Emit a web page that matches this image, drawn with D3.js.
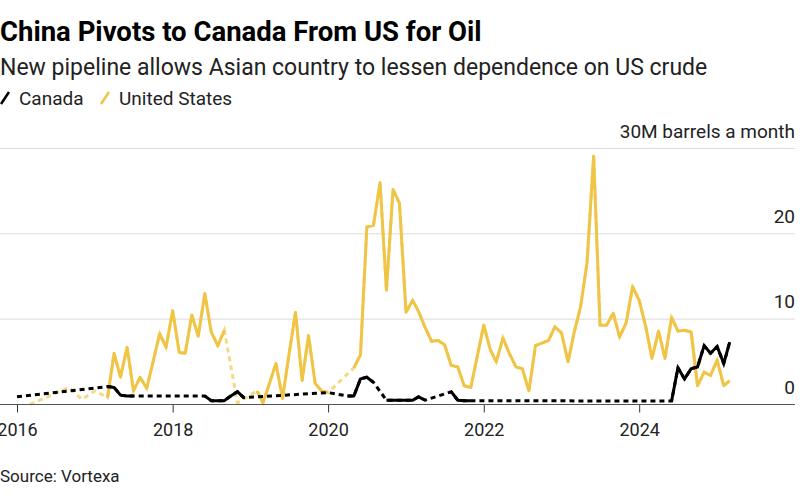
<!DOCTYPE html>
<html>
<head>
<meta charset="utf-8">
<script src="https://cdn.jsdelivr.net/npm/d3@7"></script>
<style>
  body { margin: 0; background: #fff; }
  svg { display: block; font-family: Roboto, "Liberation Sans", sans-serif; }
</style>
</head>
<body>
<svg id="chart" width="800" height="500"></svg>
<script>
// monthly imports into China, millions of barrels, Jan 2016 .. Mar 2025 (null = no data)
const firstMonth = new Date(2016, 0, 1);
const lastMonth = new Date(2025, 2, 1);
const months = d3.timeMonth.range(firstMonth, d3.timeMonth.offset(lastMonth, 1));

const canada = [
  0.9, null, null, null, null, null, null, null, null, null, null, null,   // 2016
  null, null, 2.1, 2.0, 1.1, 1.0, 1.0, null, null, null, null, null,       // 2017
  null, null, null, null, null, 1.0, 0.45, 0.45, 0.45, 1.0, 1.5, 0.8,     // 2018
  null, null, null, null, null, null, null, null, null, null, null, null, // 2019
  1.4, null, null, 1.0, 1.0, 3.0, 3.2, 2.6, null, 0.5, 0.5, 0.5,          // 2020
  0.5, 0.5, 0.9, 0.5, null, null, null, 1.5, 0.5, 0.45, 0.45, null,       // 2021
  null, null, null, null, null, null, null, null, null, null, null, null, // 2022
  null, null, null, null, null, null, null, null, null, null, null, null, // 2023
  null, null, null, null, null, 0.4, 4.3, 3.0, 4.2, 4.4, 6.9, 6.0,        // 2024
  6.8, 4.8, 7.3                                                           // 2025
];

const unitedStates = [
  null, null, 0.0, null, null, null, null, null, 2.0, null, 0.6, null,    // 2016
  1.6, null, 0.8, 6.0, 3.2, 6.7, 1.6, 3.2, 1.9, 5.0, 8.3, 6.7,            // 2017
  11.0, 6.1, 6.0, 10.5, 8.0, 13.0, 8.5, 6.9, 8.7, null, 0.2, null,        // 2018
  null, 1.6, 0.2, 2.5, 4.8, 0.7, 5.8, 10.8, 2.8, 8.1, 2.5, 1.6,           // 2019
  1.4, null, null, null, 4.3, 5.8, 20.8, 21.0, 26.0, 13.4, 25.2, 23.6,    // 2020
  10.8, 12.2, 10.9, 9.0, 7.4, 7.5, 7.0, 4.6, 4.4, 2.2, 2.0, 5.6,          // 2021
  9.3, 6.4, 5.0, 7.8, 6.0, 4.4, 4.2, 1.6, 6.9, 7.2, 7.5, 9.1,             // 2022
  8.4, 5.0, 8.4, 11.5, 16.6, 29.1, 9.3, 9.3, 10.7, 7.9, 9.6, 13.8,        // 2023
  12.2, 9.1, 5.4, 8.6, 5.4, 10.2, 8.6, 8.7, 8.5, 2.2, 3.8, 3.4,           // 2024
  5.2, 2.2, 2.8                                                           // 2025
];

const seriesNames = ["Canada", "United States"];
const seriesColors = ["#000000", "#f0c445"];
const yTicks = [0, 10, 20, 30];

const plotLeft = 17;
const plotRight = 729.7;
const plotTop = 148.5;
const plotBottom = 404.5;
const rightEdge = 795;

const svg = d3.select("#chart");

const x = d3.scaleTime()
  .domain([firstMonth, lastMonth])
  .range([plotLeft, plotRight]);

const y = d3.scaleLinear()
  .domain([0, 30])
  .range([plotBottom, plotTop]);

// header
svg.append("text")
  .attr("x", 0)
  .attr("y", 41)
  .attr("font-size", 27.5)
  .attr("font-weight", 700)
  .attr("fill", "#000")
  .text("China Pivots to Canada From US for Oil");

svg.append("text")
  .attr("x", 0)
  .attr("y", 75)
  .attr("font-size", 23)
  .attr("fill", "#222")
  .text("New pipeline allows Asian country to lessen dependence on US crude");

// legend
const legend = svg.append("g").attr("transform", "translate(0, 98)");
const legendX = [0, 100];
seriesNames.forEach((name, i) => {
  const g = legend.append("g").attr("transform", `translate(${legendX[i]}, 0)`);
  g.append("line")
    .attr("x1", 1).attr("y1", 6)
    .attr("x2", 9).attr("y2", -6)
    .attr("stroke", seriesColors[i])
    .attr("stroke-width", 2.5);
  g.append("text")
    .attr("x", 19)
    .attr("y", 7)
    .attr("font-size", 19)
    .attr("fill", "#222")
    .text(name);
});

// grid + y labels
svg.append("g")
  .selectAll("line")
  .data(yTicks.filter((d) => d > 0))
  .join("line")
  .attr("x1", 0)
  .attr("x2", rightEdge)
  .attr("y1", (d) => y(d))
  .attr("y2", (d) => y(d))
  .attr("stroke", "#dcdcdc")
  .attr("stroke-width", 1);

svg.append("g")
  .selectAll("text")
  .data(yTicks)
  .join("text")
  .attr("x", rightEdge)
  .attr("y", (d) => y(d) - 11)
  .attr("text-anchor", "end")
  .attr("font-size", 19)
  .attr("fill", "#222")
  .text((d) => (d === 30 ? "30M barrels a month" : d));

// x axis
const xAxis = d3.axisBottom(x)
  .ticks(d3.timeYear.every(2))
  .tickFormat(d3.timeFormat("%Y"))
  .tickSize(8)
  .tickPadding(11);

const xg = svg.append("g")
  .attr("transform", `translate(0, ${plotBottom})`)
  .call(xAxis);
xg.select(".domain").remove();
xg.selectAll(".tick line").attr("stroke", "#333");
xg.selectAll(".tick text")
  .attr("font-size", 18)
  .attr("font-family", "Roboto, sans-serif")
  .attr("fill", "#222");

// lines: dashed through gaps, solid where months are consecutive
const seriesValues = [canada, unitedStates];
const drawOrder = [1, 0];

const line = d3.line()
  .defined((d) => d.value != null)
  .x((d) => x(d.date))
  .y((d) => y(d.value));

drawOrder.forEach((i) => {
  const data = months.map((date, k) => ({ date, value: seriesValues[i][k] }));
  const g = svg.append("g").attr("class", "series");

  g.append("path")
    .attr("d", line(data.filter(line.defined())))
    .attr("fill", "none")
    .attr("stroke", seriesColors[i])
    .attr("stroke-opacity", i === 1 ? 0.65 : 1)
    .attr("stroke-width", 3)
    .attr("stroke-dasharray", "5,4");

  g.append("path")
    .attr("d", line(data))
    .attr("fill", "none")
    .attr("stroke", seriesColors[i])
    .attr("stroke-width", 3)
    .attr("stroke-linejoin", "round");
});

// baseline
svg.append("line")
  .attr("x1", 0)
  .attr("x2", rightEdge)
  .attr("y1", plotBottom)
  .attr("y2", plotBottom)
  .attr("stroke", "#555")
  .attr("stroke-width", 1.2);

// source
svg.append("text")
  .attr("x", 0)
  .attr("y", 482)
  .attr("font-size", 17)
  .attr("fill", "#222")
  .text("Source: Vortexa");
</script>
</body>
</html>
